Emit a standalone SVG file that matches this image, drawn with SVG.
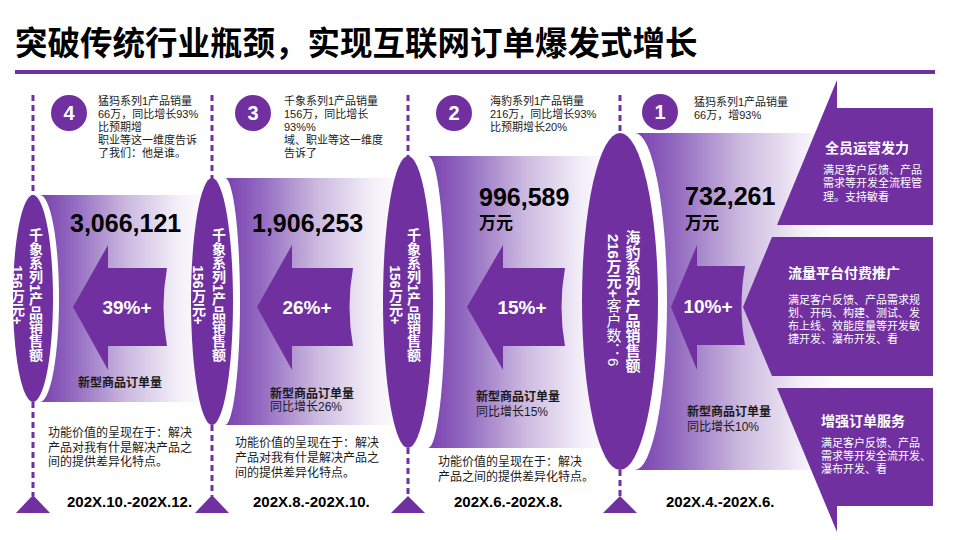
<svg xmlns="http://www.w3.org/2000/svg" width="960" height="540" viewBox="0 0 960 540">
<defs>
<linearGradient id="band" x1="0" y1="0" x2="1" y2="0">
<stop offset="0" stop-color="#7a40ae"/>
<stop offset="0.2" stop-color="#936bc1"/>
<stop offset="0.5" stop-color="#cbb8df"/>
<stop offset="0.8" stop-color="#f3eff8"/>
<stop offset="1" stop-color="#ffffff"/>
</linearGradient>
<style>
.p{fill:#7030a0}
.dash{stroke:#7030a0;stroke-width:3;stroke-dasharray:6 4;fill:none}
.t{font-family:"Liberation Sans","Noto Sans CJK SC",sans-serif}
.desc{font-size:11px;fill:#1a1a1a}
.fn{font-size:12px;fill:#1a1a1a}
.lbl{font-size:12px;font-weight:bold;fill:#1a1a1a}
.sub{font-size:12px;fill:#1a1a1a}
.big{font-size:25px;font-weight:bold;fill:#000}
.unit{font-size:17px;font-weight:bold;fill:#000}
.pct{font-size:19px;font-weight:bold;fill:#fff}
.date{font-size:15px;font-weight:bold;fill:#000}
.num{font-size:20px;font-weight:bold;fill:#fff}
.vt{writing-mode:vertical-rl;text-orientation:mixed;font-weight:bold;fill:#fff;text-anchor:middle}
.ph{font-size:14px;font-weight:bold;fill:#fff}
.pb{font-size:11px;fill:#fff}
</style>
</defs>
<rect width="960" height="540" fill="#fff"/>
<g id="title">
<text class="t" x="15" y="55" font-size="32.5" font-weight="bold" fill="#000">突破传统行业瓶颈，实现互联网订单爆发式增长</text>
<rect x="15" y="70" width="920" height="4" class="p"/>
</g>
<g id="connectors">
<line class="dash" x1="33" y1="95" x2="33" y2="196"/>
<line class="dash" x1="33" y1="402" x2="33" y2="496"/>
<line class="dash" x1="212" y1="95" x2="212" y2="179"/>
<line class="dash" x1="212" y1="425" x2="212" y2="496"/>
<line class="dash" x1="408" y1="95" x2="408" y2="157"/>
<line class="dash" x1="408" y1="448" x2="408" y2="497"/>
<line class="dash" x1="620" y1="95" x2="620" y2="134"/>
<line class="dash" x1="620" y1="470" x2="620" y2="497"/>
<polygon class="p" points="33,495 16,513 50,513"/>
<polygon class="p" points="212,495 195,513 229,513"/>
<polygon class="p" points="408,496 391,513 425,513"/>
<polygon class="p" points="620,496 603,513 637,513"/>
</g>
<g id="bands">
<path fill="url(#band)" d="M40,195 A19,103.5 0 0 1 40,402 L212,402 L212,195 Z"/>
<path fill="url(#band)" d="M225,178 A15,123.5 0 0 1 225,425 L408,425 L408,178 Z"/>
<path fill="url(#band)" d="M428,156 A17,146 0 0 1 428,448 L620,448 L620,156 Z"/>
<path fill="url(#band)" d="M635,133 A32,168.5 0 0 1 635,470 L845,470 L845,133 Z"/>
</g>
<g id="col4">
<ellipse class="p" cx="33" cy="298.5" rx="20" ry="103.5"/>
<text class="t vt" font-size="14" x="35" y="295">千象系列1产品销售额</text>
<text class="t vt" font-size="14" x="17" y="295">156万元+</text>
<circle class="p" cx="69" cy="113" r="18"/>
<text class="t num" x="69" y="120" text-anchor="middle">4</text>
<text class="t desc"><tspan x="98" y="105">猛犸系列1产品销量</tspan><tspan x="98" y="118">66万，同比增长93%</tspan><tspan x="98" y="131">比预期增</tspan><tspan x="98" y="144">职业等这一维度告诉</tspan><tspan x="98" y="157">了我们：他是谁。</tspan></text>
<text class="t big" x="70" y="232">3,066,121</text>
<path class="p" d="M73,307 L108,245 L108,268 L167,268 Q160,307 167,346 L108,346 L108,370 Z"/>
<text class="t pct" x="127" y="314" text-anchor="middle">39%+</text>
<text class="t lbl" x="78" y="387">新型商品订单量</text>
<text class="t fn"><tspan x="48" y="437">功能价值的呈现在于：解决</tspan><tspan x="48" y="452">产品对我有什是解决产品之</tspan><tspan x="48" y="466">间的提供差异化特点。</tspan></text>
<text class="t date" x="67" y="507">202X.10.-202X.12.</text>
</g>
<g id="col3">
<ellipse class="p" cx="212" cy="301.5" rx="21" ry="123.5"/>
<text class="t vt" font-size="14" x="218" y="295">千象系列1产品销售额</text>
<text class="t vt" font-size="14" x="198" y="295">156万元+</text>
<circle class="p" cx="253" cy="113" r="18"/>
<text class="t num" x="253" y="120" text-anchor="middle">3</text>
<text class="t desc"><tspan x="284" y="105">千象系列1产品销量</tspan><tspan x="284" y="118">156万，同比增长</tspan><tspan x="284" y="131">93%%</tspan><tspan x="284" y="144">域、职业等这一维度</tspan><tspan x="284" y="157">告诉了</tspan></text>
<text class="t big" x="252" y="232">1,906,253</text>
<path class="p" d="M257,307 L292,245 L292,268 L353,268 Q346,307 353,346 L292,346 L292,370 Z"/>
<text class="t pct" x="307" y="314" text-anchor="middle">26%+</text>
<text class="t lbl" x="270" y="398">新型商品订单量</text>
<text class="t sub" x="270" y="411">同比增长26%</text>
<text class="t fn"><tspan x="235" y="447">功能价值的呈现在于：解决</tspan><tspan x="235" y="462">产品对我有什是解决产品之</tspan><tspan x="235" y="477">间的提供差异化特点。</tspan></text>
<text class="t date" x="253" y="507">202X.8.-202X.10.</text>
</g>
<g id="col2">
<ellipse class="p" cx="408" cy="302" rx="25" ry="146"/>
<text class="t vt" font-size="14" x="413" y="295">千象系列1产品销售额</text>
<text class="t vt" font-size="14" x="395" y="295">156万元+</text>
<circle class="p" cx="454" cy="113" r="18"/>
<text class="t num" x="454" y="120" text-anchor="middle">2</text>
<text class="t desc"><tspan x="490" y="105">海豹系列1产品销量</tspan><tspan x="490" y="118">216万，同比增长93%</tspan><tspan x="490" y="131">比预期增长20%</tspan></text>
<text class="t big" x="479" y="206">996,589</text>
<text class="t unit" x="479" y="229">万元</text>
<path class="p" d="M467,307 L503,245 L503,268 L565,268 Q558,307 565,346 L503,346 L503,370 Z"/>
<text class="t pct" x="522" y="314" text-anchor="middle">15%+</text>
<text class="t lbl" x="476" y="401">新型商品订单量</text>
<text class="t sub" x="476" y="416">同比增长15%</text>
<text class="t fn"><tspan x="438" y="466">功能价值的呈现在于：解决</tspan><tspan x="438" y="481">产品之间的提供差异化特点。</tspan></text>
<text class="t date" x="454" y="507">202X.6.-202X.8.</text>
</g>
<g id="col1">
<ellipse class="p" cx="620" cy="301.5" rx="38" ry="168.5"/>
<text class="t vt" font-size="15" x="632" y="301">海豹系列1产品销售额</text>
<text class="t vt" font-size="15" x="613" y="300">216万元+<tspan font-weight="normal">客户数：6</tspan></text>
<circle class="p" cx="660" cy="112" r="18"/>
<text class="t num" x="660" y="119" text-anchor="middle">1</text>
<text class="t desc"><tspan x="694" y="106">猛犸系列1产品销量</tspan><tspan x="694" y="119">66万，增93%</tspan></text>
<text class="t big" x="685" y="205">732,261</text>
<text class="t unit" x="685" y="229">万元</text>
<path class="p" d="M671,307 L697,245 L697,266 L745,266 Q738,307 745,345 L697,345 L697,370 Z"/>
<text class="t pct" x="708" y="313" text-anchor="middle">10%+</text>
<text class="t lbl" x="687" y="416">新型商品订单量</text>
<text class="t sub" x="687" y="431">同比增长10%</text>
<text class="t date" x="666" y="507">202X.4.-202X.6.</text>
</g>
<g id="panel1">
<polygon class="p" points="837,80 837,108 933,108 933,225 777,225"/>
<text class="t ph" x="825" y="153">全员运营发力</text>
<text class="t pb"><tspan x="823" y="174">满足客户反馈、产品</tspan><tspan x="823" y="187">需求等开发全流程管</tspan><tspan x="823" y="201">理。支持敏看</tspan></text>
</g>
<g id="panel2">
<polygon class="p" points="772,237 933,237 933,376 772,376 743,307"/>
<text class="t ph" x="788" y="278">流量平台付费推广</text>
<text class="t pb"><tspan x="788" y="304">满足客户反馈、产品需求规</tspan><tspan x="788" y="317">划、开码、构建、测试、发</tspan><tspan x="788" y="330">布上线、效能度量等开发敏</tspan><tspan x="788" y="343">捷开发、瀑布开发、看</tspan></text>
</g>
<g id="panel3">
<polygon class="p" points="777,388 933,388 933,506 837,506 837,532"/>
<text class="t ph" x="821" y="426">增强订单服务</text>
<text class="t pb"><tspan x="821" y="447">满足客户反馈、产品</tspan><tspan x="821" y="460">需求等开发全流开发、</tspan><tspan x="821" y="473">瀑布开发、看</tspan></text>
</g>
</svg>
